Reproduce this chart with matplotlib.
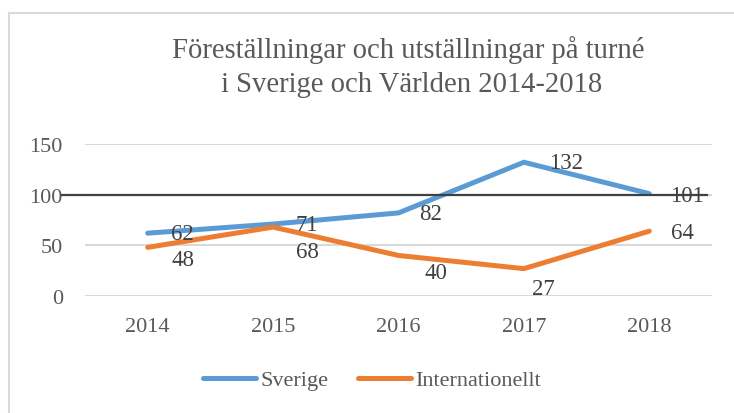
import matplotlib.pyplot as plt
from matplotlib.lines import Line2D

# data
years = ['2014', '2015', '2016', '2017', '2018']
sverige = [62, 71, 82, 132, 101]
internationellt = [48, 68, 40, 27, 64]
yticks = [0, 50, 100, 150]

title = 'Föreställningar och utställningar på turné\n i Sverige och Världen 2014-2018'

# label offsets in pixels (dx, dy)
off_sv = [(35, 0), (34, 0), (32, -1), (42, 0), (38, -2)]
off_int = [(35, -12), (34, -24), (37, -17), (19, -20), (33, -1)]

blue = '#5b9bd5'
orange = '#ed7d31'
txt = '#595959'
serif = ['Liberation Serif', 'DejaVu Serif']

fig = plt.figure(figsize=(7.34, 4.14), dpi=100)
W, H = 734, 414
ax = fig.add_axes([85 / W, 1 - 297 / H, 627 / W, 152 / H])

x = list(range(len(years)))
ax.plot(x, sverige, color=blue, lw=3.6, solid_capstyle='round', label='Sverige', zorder=3)
ax.plot(x, internationellt, color=orange, lw=3.6, solid_capstyle='round', label='Internationellt', zorder=3)

for xi, v, (dx, dy) in zip(x, sverige, off_sv):
    ax.annotate(str(v), (xi, v), xytext=(dx, dy), textcoords='offset pixels',
                ha='center', va='center', fontsize=16.5, color='#404040', family=serif, zorder=5)
for xi, v, (dx, dy) in zip(x, internationellt, off_int):
    ax.annotate(str(v), (xi, v), xytext=(dx, dy), textcoords='offset pixels',
                ha='center', va='center', fontsize=16.5, color='#404040', family=serif, zorder=5)

ax.set_xlim(-0.5, 4.5)
ax.set_ylim(0, 150)
ax.set_yticks(yticks)
ax.set_xticks(x)
ax.set_xticklabels(years)
ax.yaxis.grid(True, color='#d9d9d9', lw=1.5)
ax.set_axisbelow(True)
for s in ax.spines.values():
    s.set_visible(False)
ax.tick_params(length=0, labelsize=16, labelcolor=txt)
ax.tick_params(axis='x', pad=15)
ax.tick_params(axis='y', pad=16)
for lab in ax.get_xticklabels() + ax.get_yticklabels():
    lab.set_family(serif)

# black line at 100
tr = ax.get_yaxis_transform()
ax.plot([-23 / 627, 622 / 627], [100, 100], transform=tr, color='#404040', lw=1.6,
        clip_on=False, zorder=4)

fig.text(408 / W, 1 - 67 / H, title, ha='center', va='center', fontsize=20.6,
         color=txt, family=serif, linespacing=1.4)

fig.legend(loc='center', bbox_to_anchor=(372 / W, 1 - 381 / H), ncol=2, frameon=False,
           prop={'family': serif, 'size': 16}, labelcolor=txt, handlelength=2.4,
           handletextpad=0.2, columnspacing=1.3)

# chart border (left and top)
fig.add_artist(Line2D([9 / W, 9 / W], [0, 1 - 14 / H], color='#d9d9d9', lw=1.5))
fig.add_artist(Line2D([9 / W, 1], [1 - 14 / H, 1 - 14 / H], color='#d9d9d9', lw=1.5))

fig.savefig('out.png', dpi=100)
